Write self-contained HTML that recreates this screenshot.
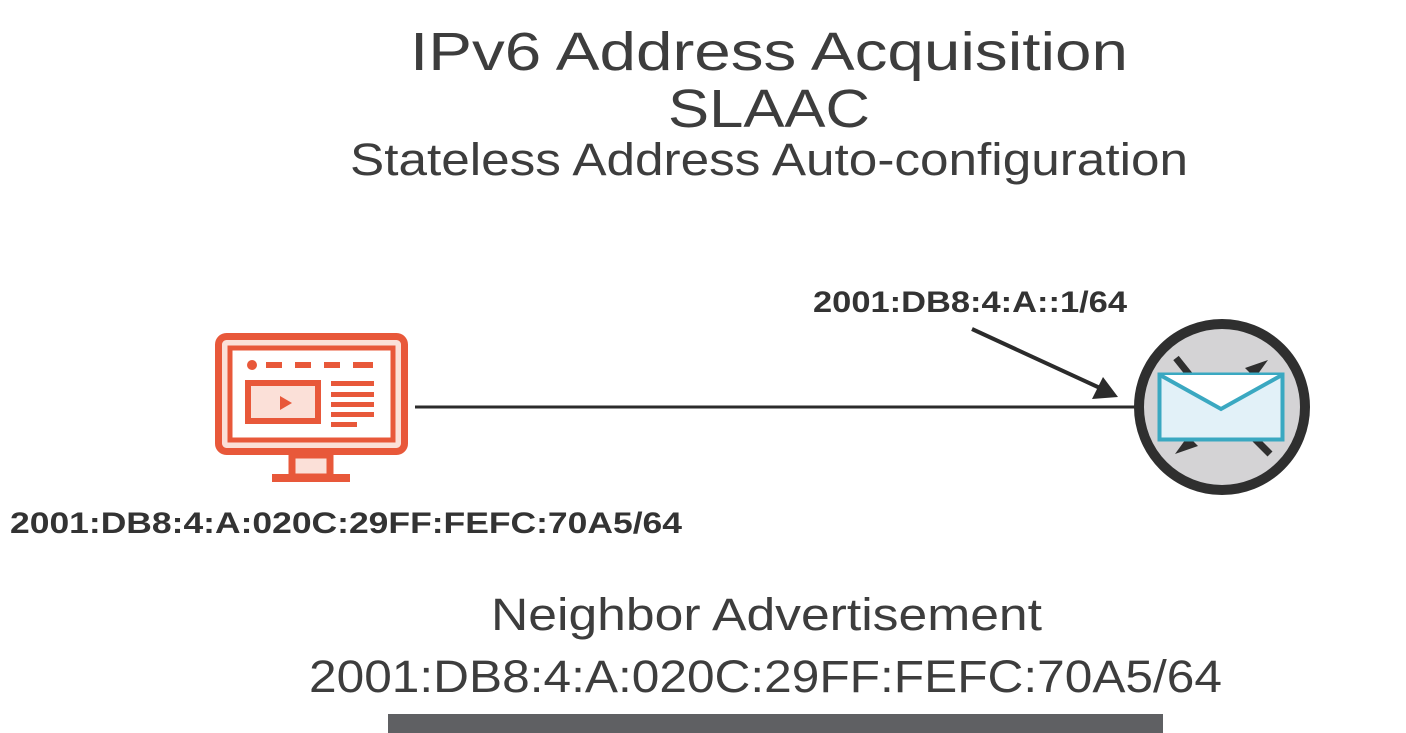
<!DOCTYPE html>
<html><head><meta charset="utf-8"><style>
html,body{margin:0;padding:0;background:#fff;}
svg{display:block;}
text{font-family:"Liberation Sans",sans-serif;}
</style></head><body>
<svg width="1406" height="733" viewBox="0 0 1406 733" xmlns="http://www.w3.org/2000/svg">
<rect width="1406" height="733" fill="#fff"/>
<g fill="#3d3d3d" font-size="54">
<text x="410" y="70" textLength="718" lengthAdjust="spacingAndGlyphs">IPv6 Address Acquisition</text>
<text x="668" y="127" textLength="202" lengthAdjust="spacingAndGlyphs">SLAAC</text>
<text x="350" y="175" font-size="45" textLength="838" lengthAdjust="spacingAndGlyphs">Stateless Address Auto-configuration</text>
<text x="491" y="630" font-size="45" textLength="551" lengthAdjust="spacingAndGlyphs">Neighbor Advertisement</text>
<text x="309" y="692" font-size="45" textLength="913" lengthAdjust="spacingAndGlyphs">2001:DB8:4:A:020C:29FF:FEFC:70A5/64</text>
</g>
<g fill="#333" font-size="30" font-weight="bold">
<text x="813" y="312" textLength="314" lengthAdjust="spacingAndGlyphs">2001:DB8:4:A::1/64</text>
<text x="10" y="533" textLength="672" lengthAdjust="spacingAndGlyphs">2001:DB8:4:A:020C:29FF:FEFC:70A5/64</text>
</g>
<!-- connector -->
<line x1="415" y1="407" x2="1135" y2="407" stroke="#2b2b2b" stroke-width="3"/>
<line x1="972" y1="329" x2="1100" y2="388" stroke="#2b2b2b" stroke-width="4"/>
<polygon points="1118,397 1092,399 1103,377" fill="#2b2b2b"/>
<!-- monitor -->
<g fill="none" stroke="#e8583a" stroke-width="7">
<rect x="292" y="455" width="38" height="22" fill="#fbe0d8"/>
<rect x="218.5" y="336.5" width="186" height="115" rx="8" fill="#fbe0d8"/>
<rect x="230" y="348" width="163" height="92" fill="#fff" stroke-width="5"/>
<rect x="248" y="383" width="70" height="38" fill="#fbe0d8" stroke-width="6"/>
</g>
<rect x="272" y="474" width="78" height="8" fill="#e8583a"/>
<circle cx="252" cy="365" r="5" fill="#e8583a"/>
<g fill="#e8583a">
<rect x="266" y="362" width="16" height="6"/><rect x="295" y="362" width="16" height="6"/><rect x="324" y="362" width="16" height="6"/><rect x="353" y="362" width="20" height="6"/>
<rect x="331" y="381" width="43" height="5"/><rect x="331" y="392" width="43" height="5"/><rect x="331" y="402" width="43" height="5"/><rect x="331" y="412" width="43" height="5"/><rect x="331" y="422" width="26" height="5"/>
<polygon points="280,396 280,410 292,403"/>
</g>
<!-- router -->
<circle cx="1222" cy="407" r="83" fill="#d4d3d5" stroke="#2f2f2f" stroke-width="10"/>
<g stroke="#2f2f2f" stroke-width="7">
<line x1="1176" y1="358" x2="1192" y2="378"/>
<line x1="1252" y1="436" x2="1270" y2="454"/>
</g>
<polygon points="1268,360 1245,368 1255,378" fill="#2f2f2f"/>
<polygon points="1175,454 1198,446 1188,436" fill="#2f2f2f"/>
<rect x="1159.5" y="374.5" width="123" height="65" fill="#e2f1f8" stroke="#3aa8c1" stroke-width="4"/>
<polyline points="1160,375 1221,409 1282,375" fill="#fff" stroke="#3aa8c1" stroke-width="4"/>
<rect x="388" y="714" width="775" height="19" fill="#5f6063"/>
</svg>
</body></html>
